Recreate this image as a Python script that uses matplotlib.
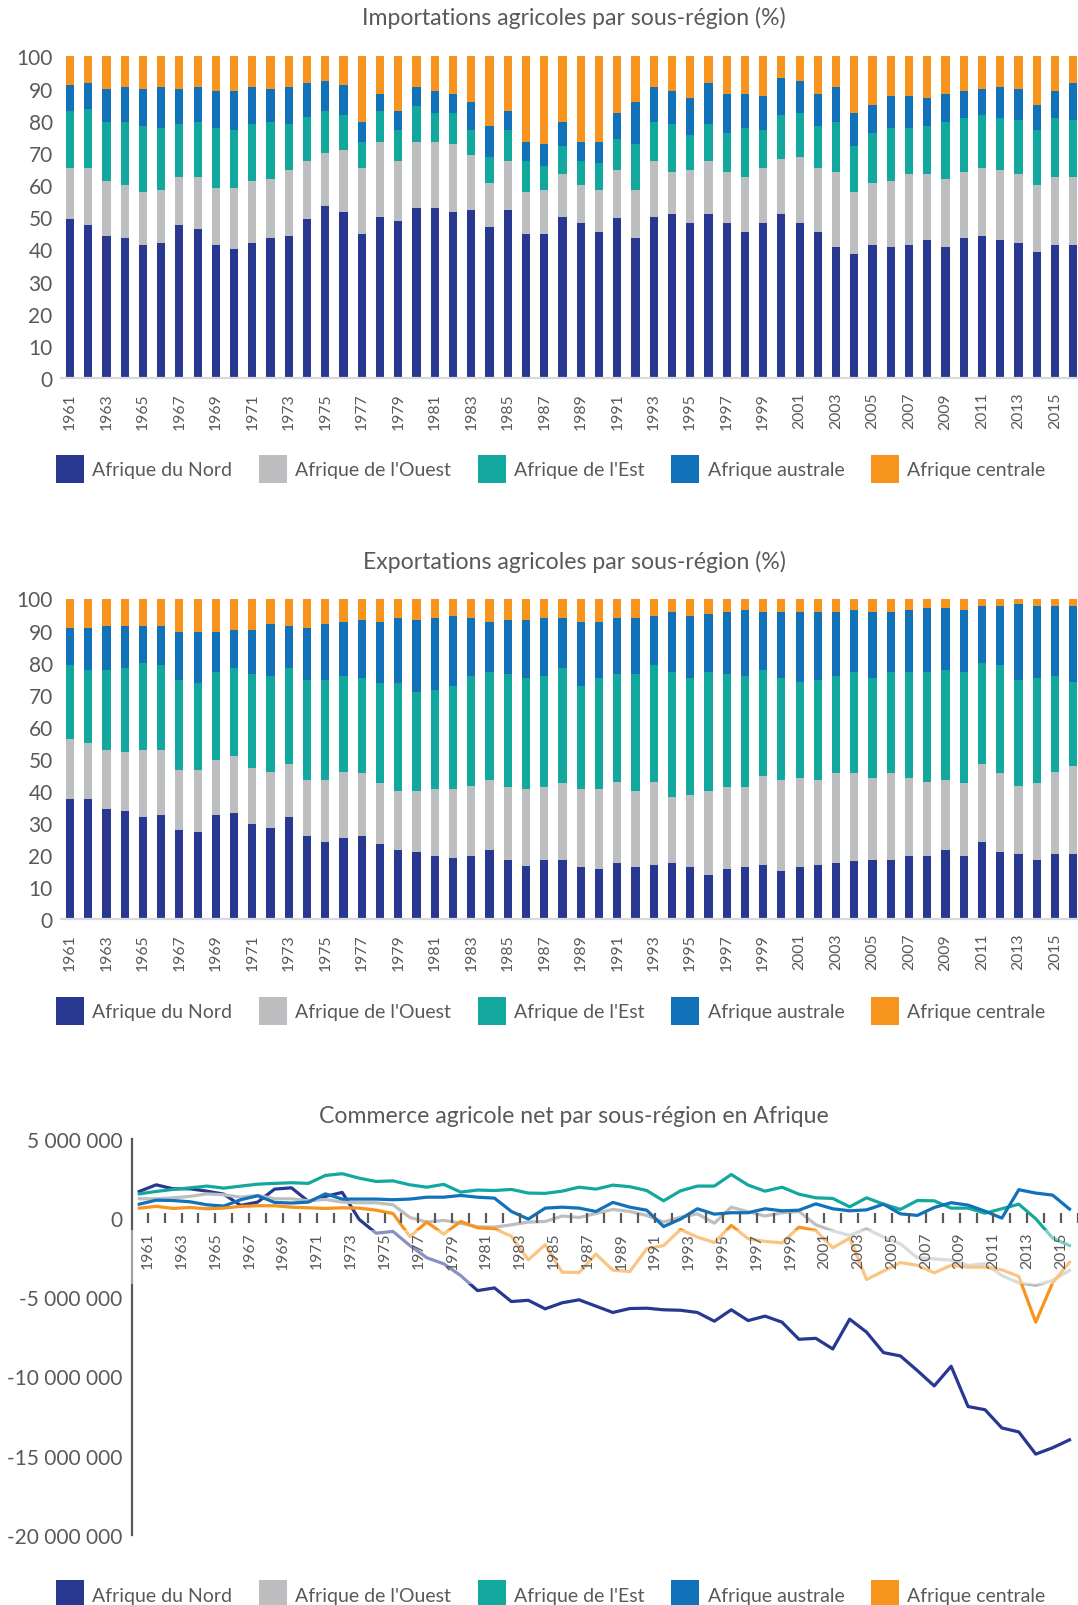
import numpy as np
import matplotlib
matplotlib.use("Agg")
from matplotlib import pyplot as plt
from matplotlib.patches import Patch, Rectangle
from matplotlib import transforms
from matplotlib.ticker import FuncFormatter

plt.rcParams['font.family'] = ['Lato', 'DejaVu Sans']

years = list(range(1961, 2017))
regions = ["Afrique du Nord", "Afrique de l'Ouest", "Afrique de l'Est", "Afrique australe", "Afrique centrale"]
colors = ['#283891', '#bcbec0', '#13a89e', '#1172ba', '#f7941d']
grey_txt = '#595959'

# importations (% par sous-region)
imp_nord = [49.5, 47.6, 44.2, 43.5, 41.4, 42.0, 47.6, 46.2, 41.4, 40.1, 42.0, 43.5, 44.2, 49.5, 53.6, 51.7,
            44.8, 50.2, 48.9, 52.9, 52.9, 51.7, 52.3, 46.8, 52.3, 44.8, 44.8, 50.2, 48.3, 45.5, 49.6, 43.5,
            50.2, 51.0, 48.3, 51.0, 48.3, 45.5, 48.3, 51.0, 48.3, 45.5, 40.8, 38.7, 41.4, 40.8, 41.4, 42.9,
            40.8, 43.5, 44.2, 42.9, 42.1, 39.3, 41.4, 41.4]
imp_ouest = [15.8, 17.7, 17.1, 16.4, 16.5, 16.5, 15.0, 16.4, 17.8, 19.1, 19.3, 18.4, 20.5, 17.9, 16.5, 19.1,
             20.5, 23.3, 18.5, 20.6, 20.6, 21.1, 17.1, 13.8, 15.1, 13.1, 13.7, 13.2, 11.6, 13.0, 15.1, 15.0,
             17.2, 13.0, 16.4, 16.4, 15.7, 17.1, 17.0, 17.1, 20.4, 19.8, 23.2, 19.2, 19.2, 20.5, 22.0, 20.5,
             21.1, 20.5, 21.1, 21.8, 21.3, 20.6, 21.2, 21.2]
imp_est = [17.7, 18.4, 18.3, 19.7, 20.4, 19.1, 16.3, 17.0, 18.4, 17.8, 17.6, 17.7, 14.2, 13.7, 12.9, 10.9,
           8.2, 9.5, 9.6, 11.0, 8.9, 9.6, 7.6, 8.1, 9.6, 9.5, 7.5, 8.8, 7.5, 8.3, 9.5, 14.3,
           12.2, 14.9, 10.8, 11.5, 12.2, 15.0, 11.7, 13.6, 13.6, 13.0, 15.6, 14.3, 15.6, 16.3, 14.2, 14.9,
           17.7, 17.0, 16.4, 16.3, 16.9, 17.1, 18.4, 17.7]
imp_australe = [8.2, 8.1, 10.2, 10.9, 11.5, 12.9, 10.9, 10.9, 11.5, 12.1, 11.6, 10.2, 11.6, 10.7, 9.4, 9.5,
                6.1, 5.4, 6.0, 6.0, 6.7, 6.0, 8.7, 9.6, 6.0, 6.1, 6.8, 7.4, 6.1, 6.7, 8.1, 12.9,
                10.9, 10.2, 11.6, 12.9, 12.2, 10.8, 10.8, 11.5, 10.1, 10.1, 10.9, 10.1, 8.8, 10.2, 10.2, 8.8,
                8.8, 8.1, 8.1, 9.5, 9.5, 8.0, 8.1, 11.5]
imp_centrale = [8.8, 8.2, 10.2, 9.5, 10.2, 9.5, 10.2, 9.5, 10.9, 10.9, 9.5, 10.2, 9.5, 8.2, 7.6, 8.8,
                20.4, 11.6, 17.0, 9.5, 10.9, 11.6, 14.3, 21.7, 17.0, 26.5, 27.2, 20.4, 26.5, 26.5, 17.7, 14.3,
                9.5, 10.9, 12.9, 8.2, 11.6, 11.6, 12.2, 6.8, 7.6, 11.6, 9.5, 17.7, 15.0, 12.2, 12.2, 12.9,
                11.6, 10.9, 10.2, 9.5, 10.2, 15.0, 10.9, 8.2]

# exportations (% par sous-region)
exp_nord = [37.4, 37.4, 34.4, 33.8, 31.9, 32.5, 27.7, 27.1, 32.5, 33.2, 29.5, 28.3, 31.9, 25.8, 24.0, 25.2,
            25.8, 23.3, 21.5, 20.9, 19.7, 19.1, 19.7, 21.5, 18.5, 16.6, 18.5, 18.5, 16.1, 15.5, 17.4, 16.1,
            16.7, 17.4, 16.1, 13.7, 15.5, 16.1, 16.7, 14.9, 16.1, 16.7, 17.4, 18.0, 18.5, 18.5, 19.7, 19.7,
            21.5, 19.7, 24.0, 20.9, 20.4, 18.5, 20.4, 20.4]
exp_ouest = [18.9, 17.6, 18.3, 18.3, 20.8, 20.2, 18.9, 19.5, 17.1, 17.6, 17.7, 17.7, 16.4, 17.7, 19.5, 20.8,
             19.6, 19.0, 18.4, 19.0, 20.8, 21.4, 21.9, 22.0, 22.6, 23.9, 22.6, 23.8, 24.4, 25.0, 25.5, 23.8,
             26.2, 20.6, 22.5, 26.2, 25.6, 25.0, 28.0, 28.6, 28.0, 26.8, 28.0, 27.4, 25.6, 26.9, 24.4, 23.2,
             22.0, 22.6, 24.3, 24.5, 21.2, 23.8, 25.6, 27.4]
exp_est = [23.0, 22.6, 24.9, 26.1, 27.3, 26.6, 28.1, 26.9, 27.4, 27.4, 29.2, 29.8, 29.9, 31.2, 31.2, 29.8,
           29.8, 31.2, 33.6, 31.0, 31.0, 32.3, 34.2, 33.5, 35.3, 34.7, 34.7, 35.9, 32.3, 34.7, 33.5, 36.5,
           36.4, 39.0, 36.6, 37.1, 35.3, 34.7, 32.9, 31.7, 30.0, 31.2, 30.4, 31.6, 31.1, 31.6, 32.9, 34.1,
           34.1, 34.7, 31.7, 33.9, 33.1, 32.9, 29.8, 26.3]
exp_australe = [11.6, 13.3, 13.9, 13.3, 11.5, 12.2, 15.0, 16.2, 12.7, 12.1, 13.9, 16.3, 13.3, 16.2, 17.4, 17.0,
                18.2, 19.3, 20.5, 22.5, 22.5, 21.8, 18.2, 15.8, 17.0, 18.2, 18.2, 15.8, 20.0, 17.6, 17.6, 17.6,
                15.3, 18.8, 19.4, 18.2, 19.4, 20.6, 18.2, 20.6, 21.7, 21.1, 20.0, 19.4, 20.6, 18.8, 19.4, 20.0,
                19.4, 19.4, 17.6, 18.3, 23.5, 22.4, 21.8, 23.5]
exp_centrale = [9.1, 9.1, 8.5, 8.5, 8.5, 8.5, 10.3, 10.3, 10.3, 9.7, 9.7, 7.9, 8.5, 9.1, 7.9, 7.2,
                6.6, 7.2, 6.0, 6.6, 6.0, 5.4, 6.0, 7.2, 6.6, 6.6, 6.0, 6.0, 7.2, 7.2, 6.0, 6.0,
                5.4, 4.2, 5.4, 4.8, 4.2, 3.6, 4.2, 4.2, 4.2, 4.2, 4.2, 3.6, 4.2, 4.2, 3.6, 3.0,
                3.0, 3.6, 2.4, 2.4, 1.8, 2.4, 2.4, 2.4]

# commerce agricole net (millions)
net_nord = [1.66, 2.08, 1.83, 1.83, 1.68, 1.49, 0.78, 0.99, 1.81, 1.89, 1.03, 1.35, 1.60, -0.10, -0.97, -0.86,
            -1.75, -2.52, -2.9, -3.64, -4.59, -4.42, -5.28, -5.2, -5.74, -5.36, -5.17, -5.57, -5.97, -5.72,
            -5.70, -5.80, -5.83, -5.97, -6.52, -5.80, -6.48, -6.2, -6.58, -7.66, -7.6, -8.27, -6.39, -7.21,
            -8.5, -8.71, -9.63, -10.6, -9.36, -11.9, -12.1, -13.25, -13.5, -14.9, -14.5, -14.0]
net_ouest = [1.20, 1.20, 1.26, 1.35, 1.51, 1.45, 1.30, 1.41, 1.20, 1.20, 1.07, 1.16, 0.99, 0.95, 0.95, 0.82,
             0.02, -0.27, -0.16, -0.34, -0.57, -0.59, -0.44, -0.27, -0.23, 0.11, 0.02, 0.27, 0.53, 0.40,
             0.15, -0.27, 0.04, 0.25, -0.34, 0.67, 0.38, 0.11, 0.32, 0.40, -0.44, -0.82, -1.11, -0.69,
             -1.22, -1.64, -2.52, -2.59, -2.67, -3.0, -2.9, -3.64, -4.1, -4.27, -3.95, -3.32]
net_est = [1.51, 1.66, 1.79, 1.89, 2.0, 1.87, 2.0, 2.12, 2.17, 2.21, 2.17, 2.67, 2.78, 2.5, 2.29, 2.33,
           2.08, 1.93, 2.11, 1.62, 1.75, 1.72, 1.79, 1.56, 1.54, 1.68, 1.93, 1.81, 2.06, 1.96,
           1.72, 1.07, 1.70, 2.0, 2.0, 2.73, 2.06, 1.68, 1.93, 1.49, 1.26, 1.22, 0.69, 1.26,
           0.86, 0.53, 1.09, 1.07, 0.61, 0.61, 0.29, 0.57, 0.86, -0.06, -1.28, -1.75]
net_australe = [0.86, 1.11, 1.09, 1.01, 0.82, 0.74, 1.14, 1.39, 0.97, 0.93, 0.99, 1.51, 1.18, 1.18, 1.18, 1.14,
                1.18, 1.30, 1.30, 1.41, 1.30, 1.24, 0.40, -0.08, 0.61, 0.67, 0.61, 0.40, 0.97, 0.67,
                0.48, -0.55, -0.08, 0.57, 0.23, 0.32, 0.32, 0.57, 0.44, 0.48, 0.88, 0.57, 0.44, 0.50,
                0.86, 0.25, 0.15, 0.65, 0.95, 0.80, 0.42, -0.02, 1.77, 1.56, 1.43, 0.55]
net_centrale = [0.61, 0.72, 0.59, 0.65, 0.57, 0.61, 0.72, 0.76, 0.76, 0.67, 0.63, 0.59, 0.63, 0.61, 0.48, 0.27,
                -1.18, -0.27, -1.03, -0.23, -0.63, -0.69, -1.16, -2.65, -1.70, -3.43, -3.45, -2.29, -3.30, -3.39,
                -1.96, -1.75, -0.74, -1.22, -1.56, -0.48, -1.32, -1.49, -1.58, -0.59, -0.80, -1.89, -1.28, -3.89,
                -3.36, -2.82, -3.0, -3.47, -2.99, -3.11, -3.11, -3.28, -3.70, -6.58, -4.1, -2.8]

W, H = 1078, 1606
fig = plt.figure(figsize=(W / 100, H / 100), dpi=100)


def add_legend(legend_y):
    handles = [Patch(facecolor=c, edgecolor='none') for c in colors]
    fig.legend(handles, regions, loc='center left', bbox_to_anchor=(56 / W, 1 - legend_y / H),
               ncol=5, frameon=False, fontsize=14, labelcolor=grey_txt,
               handlelength=1.44, handleheight=1.84, handletextpad=0.42,
               columnspacing=1.38, borderpad=0, borderaxespad=0)


def stacked(ax, series, title, title_y, legend_y):
    x = np.arange(len(years))
    bottom = np.zeros(len(years))
    for vals, col in zip(series, colors):
        ax.bar(x, vals, 0.45, bottom=bottom, color=col, linewidth=0)
        bottom += np.array(vals)
    ax.set_xlim(-0.49, 55.26)
    ax.set_ylim(0, 100)
    ax.set_yticks(range(0, 101, 10))
    ax.set_xticks(x[::2])
    ax.set_xticklabels([str(y) for y in years[::2]], rotation=90)
    ax.tick_params(axis='x', length=0, pad=10, labelsize=11.3, colors=grey_txt)
    ax.tick_params(axis='y', length=0, pad=6, labelsize=15, colors=grey_txt)
    for s in ['top', 'right', 'left']:
        ax.spines[s].set_visible(False)
    ax.spines['bottom'].set_color('#d9d9d9')
    ax.spines['bottom'].set_linewidth(1.6)
    fig.text(574 / W, 1 - title_y / H, title, ha='center', va='center', fontsize=16.6, color=grey_txt)
    add_legend(legend_y)


ax1 = fig.add_axes([61 / W, 1 - 379 / H, 1 - 61 / W, (379 - 57.4) / H])
stacked(ax1, [imp_nord, imp_ouest, imp_est, imp_australe, imp_centrale],
        'Importations agricoles par sous-région (%)', 18.4, 470)

ax2 = fig.add_axes([61 / W, 1 - 920 / H, 1 - 61 / W, (920 - 599.5) / H])
stacked(ax2, [exp_nord, exp_ouest, exp_est, exp_australe, exp_centrale],
        'Exportations agricoles par sous-région (%)', 561.5, 1012)

# courbes du commerce net
ax3 = fig.add_axes([132 / W, 1 - 1536 / H, 1 - 132 / W, (1536 - 1139.5) / H])
ax3.spines['bottom'].set_position(('data', 0))
ax3.spines['bottom'].set_visible(False)
ax3.spines['top'].set_visible(False)
ax3.spines['right'].set_visible(False)
ax3.spines['left'].set_color(grey_txt)
ax3.spines['left'].set_linewidth(1.6)
x = np.arange(len(years))
for vals, col in zip([net_nord, net_ouest, net_est, net_australe, net_centrale], colors):
    ax3.plot(x, np.array(vals) * 1e6, color=col, linewidth=2.3, zorder=2)
ax3.set_xlim(-0.43, 55.02)
ax3.set_ylim(-20e6, 5e6)
ax3.set_yticks(np.arange(-20e6, 5e6 + 1, 5e6))
ax3.yaxis.set_major_formatter(FuncFormatter(lambda v, p: f"{v:,.0f}".replace(',', ' ')))
ax3.set_xticks(x + 0.5)
ax3.set_xticklabels([str(y) if i % 2 == 0 else '' for i, y in enumerate(years)])
ax3.tick_params(axis='x', direction='inout', length=7.2, width=1.6, color=grey_txt,
                pad=6.5, labelsize=11.3, labelcolor=grey_txt, labelrotation=90)
ax3.tick_params(axis='y', length=0, pad=7, labelsize=15, colors=grey_txt)
ax3.xaxis.set_zorder(4)
band = Rectangle((-0.006, -4.16e6), 1.006, 3.4e6,
                 transform=transforms.blended_transform_factory(ax3.transAxes, ax3.transData),
                 facecolor='white', alpha=0.45, edgecolor='none', zorder=3, clip_on=False)
ax3.add_patch(band)
fig.text(574 / W, 1 - 1117 / H, 'Commerce agricole net par sous-région en Afrique',
         ha='center', va='center', fontsize=16.6, color=grey_txt)
add_legend(1595.5)

fig.savefig('out.png', dpi=100)
